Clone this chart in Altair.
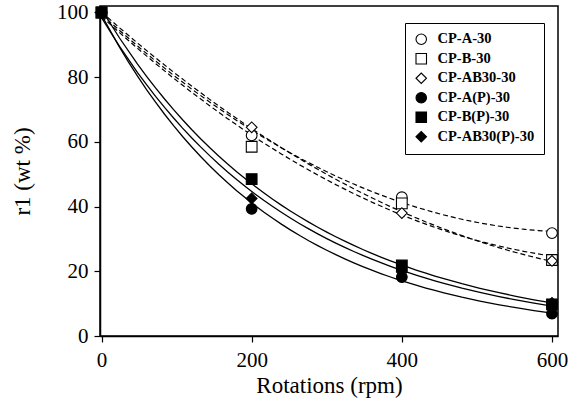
import altair as alt
import pandas as pd

rotations = [0, 200, 400, 600]
series_names = ["CP-A-30", "CP-B-30", "CP-AB30-30", "CP-A(P)-30", "CP-B(P)-30", "CP-AB30(P)-30"]
cp_a_30 = [100, 62.0, 42.9, 31.8]
cp_b_30 = [100, 58.5, 41.0, 23.5]
cp_ab30_30 = [100, 64.5, 38.0, 23.2]
cp_a_p_30 = [100, 39.3, 18.2, 6.9]
cp_b_p_30 = [100, 48.5, 21.8, 9.8]
cp_ab30_p_30 = [100, 42.5, 19.8, 10.2]
values = [cp_a_30, cp_b_30, cp_ab30_30, cp_a_p_30, cp_b_p_30, cp_ab30_p_30]
kinds = ["open", "open", "open", "filled", "filled", "filled"]

rows = []
for name, vals, kind in zip(series_names, values, kinds):
    for r, v in zip(rotations, vals):
        rows.append({"series": name, "rot": r, "r1": v, "kind": kind})
df = pd.DataFrame(rows)

FONT = "Liberation Serif"

xs = alt.Scale(domain=[-2, 608], nice=False, zero=False)
ys = alt.Scale(domain=[0, 102], nice=False)

base = alt.Chart(df)

xaxis = alt.X("rot:Q", scale=xs, title="Rotations (rpm)",
              axis=alt.Axis(values=[0, 200, 400, 600], grid=False,
                            labelFont=FONT, titleFont=FONT))
yaxis = alt.Y("r1:Q", scale=ys, title="r1 (wt %)",
              axis=alt.Axis(values=[0, 20, 40, 60, 80, 100], grid=False,
                            labelFont=FONT, titleFont=FONT))

open_lines = base.transform_filter(alt.datum.kind == "open").transform_regression(
    "rot", "r1", groupby=["series"], method="poly", order=2, extent=[0, 600]
).mark_line(color="black", strokeWidth=1.2, strokeDash=[5, 3]).encode(
    x=alt.X("rot:Q", scale=xs), y=alt.Y("r1:Q", scale=ys), detail="series:N"
)

filled_lines = base.transform_filter(alt.datum.kind == "filled").transform_regression(
    "rot", "r1", groupby=["series"], method="exp", extent=[0, 600]
).mark_line(color="black", strokeWidth=1.3).encode(
    x=alt.X("rot:Q", scale=xs), y=alt.Y("r1:Q", scale=ys), detail="series:N"
)

leg = alt.Legend(title=None, orient="none", legendX=305, legendY=17)

points = base.mark_point(size=115, strokeWidth=1.1, opacity=1, filled=False).encode(
    x=xaxis,
    y=yaxis,
    shape=alt.Shape("series:N", sort=series_names,
                    scale=alt.Scale(domain=series_names,
                                    range=["circle", "square", "diamond", "circle", "square", "diamond"]),
                    legend=leg),
    fill=alt.Fill("series:N", sort=series_names,
                  scale=alt.Scale(domain=series_names,
                                  range=["white", "white", "white", "black", "black", "black"]),
                  legend=leg),
    stroke=alt.Stroke("series:N", sort=series_names,
                      scale=alt.Scale(domain=series_names,
                                      range=["black"] * 6),
                      legend=leg),
    order=alt.Order("kind:N", sort="descending"),
)

chart = alt.layer(open_lines, filled_lines, points).properties(
    width=458, height=330,
    autosize=alt.AutoSizeParams(type="none"),
    padding={"left": 100, "top": 6, "right": 25, "bottom": 66},
    background="white",
).configure(font=FONT).configure_view(stroke="black", strokeWidth=1.5).configure_axis(
    domainColor="black", domainWidth=1.5, tickColor="black", tickSize=6, tickWidth=1.2,
    labelFont=FONT, labelFontSize=21, labelColor="black", labelFontWeight="normal",
    titleFont=FONT, titleFontSize=23, titleColor="black", titleFontWeight="normal",
).configure_axisY(labelPadding=6, titlePadding=22).configure_axisX(labelPadding=7, titlePadding=4).configure_legend(
    strokeColor="black", strokeWidth=1, padding=9, fillColor="white",
    labelFont=FONT, labelFontSize=14.5, labelFontWeight="bold", labelColor="black",
    symbolSize=110, symbolStrokeWidth=1.1,
    rowPadding=3.5, labelOffset=9, cornerRadius=0,
)

chart.save("out.html", embed_options={"renderer": "svg", "actions": False})
